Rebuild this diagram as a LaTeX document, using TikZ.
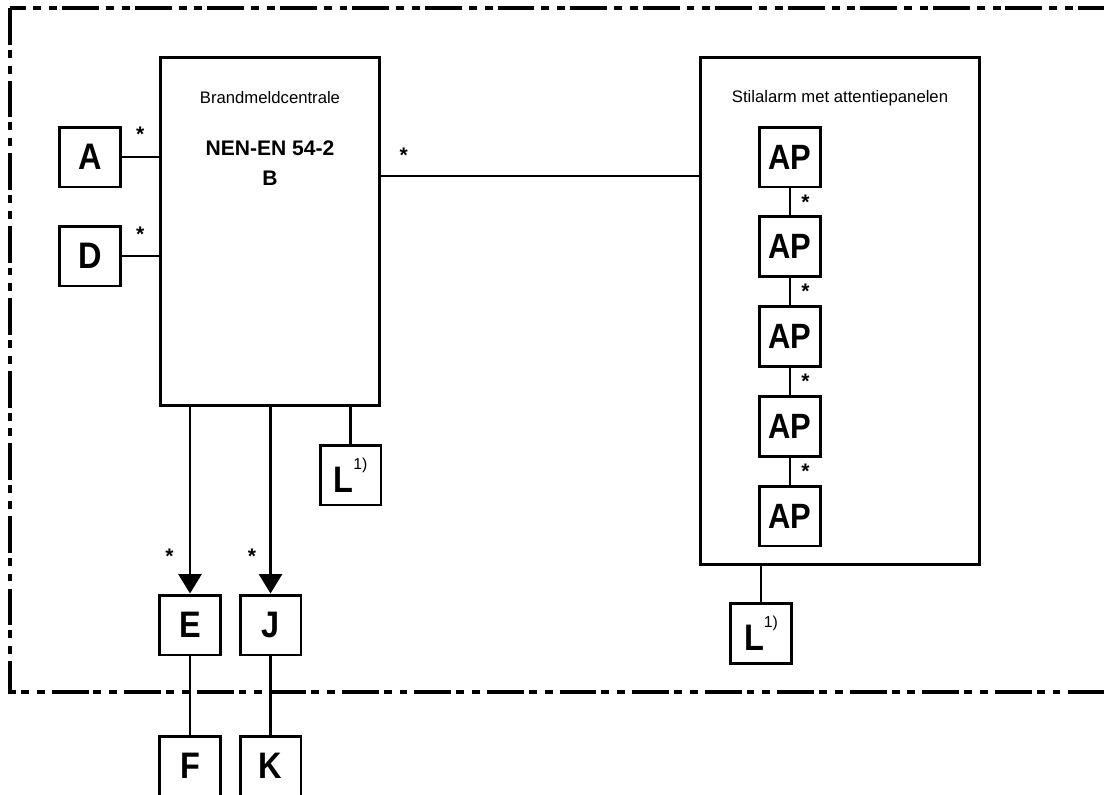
\documentclass[tikz,border=0pt]{standalone}
\usepackage{fontspec}
\setmainfont{Liberation Sans}
\newfontfamily\narrowbold{Liberation Sans Bold}[FakeStretch=0.88]
\usetikzlibrary{arrows.meta,positioning,calc}
\tikzset{
  unit/.style={draw,line width=1.7pt,minimum width=1.22cm,minimum height=1.2cm,inner sep=0pt,font=\narrowbold\fontsize{21}{21}\selectfont},
  panel/.style={draw,line width=1.7pt,inner sep=0pt},
  title/.style={font=\fontsize{9.5}{10}\selectfont,inner sep=0pt},
  norm/.style={font=\fontsize{12}{17}\selectfont\bfseries,align=center,inner sep=0pt},
  ast/.style={font=\fontsize{12}{12}\selectfont\bfseries,inner sep=0pt},
  wire/.style={line width=1.6pt},
  thinwire/.style={line width=1.1pt},
  feed/.style={wire,-{Triangle[width=13pt,length=11pt]}},
  zone/.style={line width=2.2pt,dash pattern=on 21pt off 2.8pt on 4.5pt off 4.5pt on 4.5pt off 4pt},
}
\newcommand{\noteone}{\raisebox{1.2ex}{\normalfont\fontsize{9}{9}\selectfont 1)}}

\begin{document}
\begin{tikzpicture}[x=0.02cm,y=-0.02cm]
  \useasboundingbox (0,0) rectangle (1104,794);
  \clip (0,0) rectangle (1104,794);
  % zone boundary
  \draw[zone] (10,8) rectangle (1112,692);

  % fire alarm panel
  \node[panel,minimum width=4.4cm,minimum height=6.98cm] (bmc) at (270,231.5) {};
  \node[title] (bmctitle) at (270,98) {Brandmeldcentrale};
  \node[norm] (bmcnorm) at (270,163) {NEN-EN 54-2\\B};

  \node[unit] (A) at (90,157) {A};
  \node[unit] (D) at (90,256) {D};
  \node[unit] (L1) at (350.5,475) {L\noteone};
  \node[unit] (E) at (190,625) {E};
  \node[unit] (J) at (270.5,625) {J};
  \node[unit] (F) at (190,766) {F};
  \node[unit] (K) at (270.5,766) {K};

  % silent alarm with attention panels
  \node[panel,minimum width=5.6cm,minimum height=10.16cm] (stil) at (840,311) {};
  \node[title] (stiltitle) at (840,98) {Stilalarm met attentiepanelen};
  \foreach \i in {1,...,5}
    \node[unit,font=\narrowbold\fontsize{20}{20}\selectfont] (ap\i) at (790,{157+89.75*(\i-1)}) {AP};
  \node[unit] (L2) at (761,633.5) {L\noteone};
  \coordinate (link) at (540,176);

  \draw[wire] (A.east) -- (A.east -| bmc.west) node[ast,midway,above=0.29cm] {*};
  \draw[thinwire] (D.east) -- (D.east -| bmc.west) node[ast,midway,above=0.27cm] {*};
  \draw[thinwire] (bmc.east |- link) -- (stil.west |- link) node[ast,pos=0.07,above=0.25cm] {*};
  \foreach \i [count=\j from 2] in {1,...,4}
    \draw[wire] (ap\i) -- (ap\j) node[ast,midway,right=0.2cm] {*};
  \draw[feed] (bmc.south -| E) -- (E.north) node[ast,pos=0.8,left=0.3cm] {*};
  \draw[feed] (bmc.south -| J) -- (J.north) node[ast,pos=0.8,left=0.26cm] {*};
  \draw[wire] (bmc.south -| L1) -- (L1.north);
  \draw[thinwire] (stil.south -| L2) -- (L2.north);
  \draw[wire] (E) -- (F);
  \draw[wire] (J) -- (K);
\end{tikzpicture}
\end{document}
